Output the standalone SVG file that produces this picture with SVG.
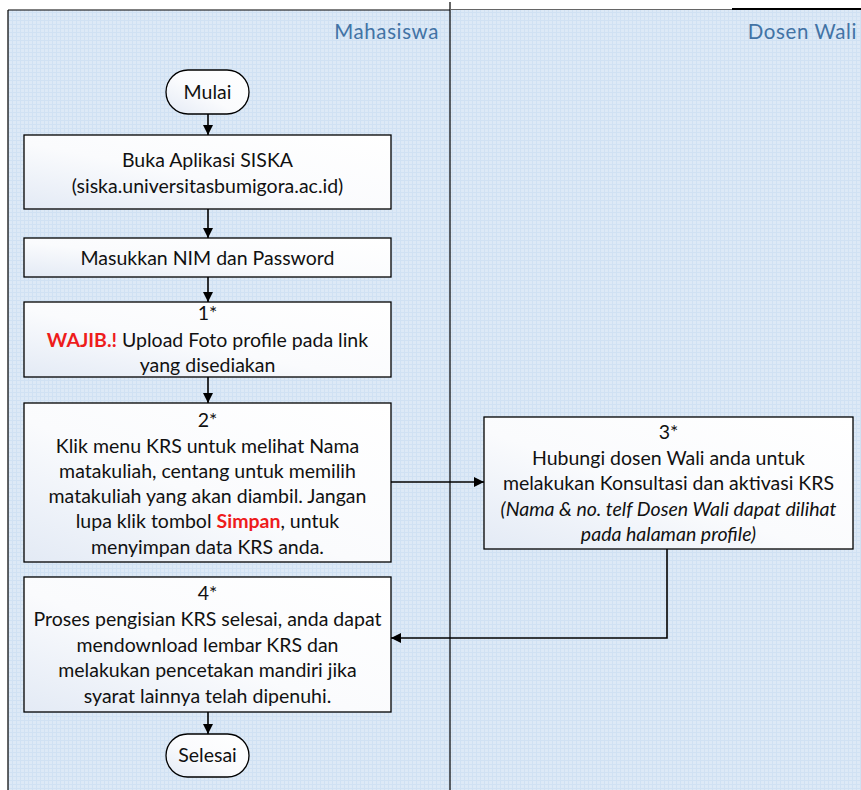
<svg xmlns="http://www.w3.org/2000/svg" width="861" height="790" viewBox="0 0 861 790">
<style>
.box{stroke:#000;stroke-width:1.3;fill:url(#bg)}
.t{font-family:Lato,"Open Sans","Liberation Sans",sans-serif;font-size:19.5px;fill:#111;text-anchor:middle}
.lane{font-family:Lato,"Open Sans","Liberation Sans",sans-serif;font-size:20.5px;letter-spacing:0.6px;fill:#4273a5;text-anchor:end}
.red{fill:#ee1c1c;font-weight:bold}
.it{font-style:italic}
.c{stroke:#000;stroke-width:1.6;fill:none}
.pool{stroke:#000;stroke-width:1.2;fill:none}
</style>
<defs>
<linearGradient id="bg" x1="1" y1="0" x2="0" y2="1">
<stop offset="0" stop-color="#ffffff"/>
<stop offset="0.55" stop-color="#fafbfd"/>
<stop offset="1" stop-color="#e3eaf5"/>
</linearGradient>
<pattern id="grid" width="4" height="4" patternUnits="userSpaceOnUse">
<rect width="4" height="4" fill="#dde9f6"/>
<path d="M0 0.5H4M0.5 0V4" stroke="#d0e1f3" stroke-width="1"/>
</pattern>
<marker id="ah" viewBox="0 0 10 10" refX="10" refY="5" markerWidth="10" markerHeight="10" markerUnits="userSpaceOnUse" orient="auto">
<path d="M0 0L10 5L0 10z" fill="#000"/>
</marker>
</defs>
<rect width="861" height="790" fill="#fff"/>
<g id="pool">
<rect x="8" y="10" width="853" height="780" fill="url(#grid)"/>
<path class="pool" d="M8 10H450M8 10V790M450 2V790"/>
<path d="M450 9.5H732" stroke="#666" stroke-width="1.2"/>
<path d="M732 9H861" stroke="#000" stroke-width="1.8"/>
<text class="lane" x="439" y="39">Mahasiswa</text>
<text class="lane" x="857" y="39">Dosen Wali</text>
</g>
<g id="connectors">
<path class="c" d="M208 114V135" marker-end="url(#ah)"/>
<path class="c" d="M208 209V238" marker-end="url(#ah)"/>
<path class="c" d="M208 277V302" marker-end="url(#ah)"/>
<path class="c" d="M208 377V403" marker-end="url(#ah)"/>
<path class="c" d="M391 482H484" marker-end="url(#ah)"/>
<path class="c" d="M667 549V638H391" marker-end="url(#ah)"/>
<path class="c" d="M208 712V734" marker-end="url(#ah)"/>
</g>
<g id="mulai">
<rect class="box" x="166" y="70" width="83" height="44" rx="22"/>
<text class="t" x="207.5" y="99">Mulai</text>
</g>
<g id="buka">
<rect class="box" x="24" y="135" width="367" height="74"/>
<text class="t" x="207.5" y="167">Buka Aplikasi SISKA</text>
<text class="t" x="207.5" y="193">(siska.universitasbumigora.ac.id)</text>
</g>
<g id="masukkan">
<rect class="box" x="24" y="238" width="367" height="39"/>
<text class="t" x="207.5" y="265">Masukkan NIM dan Password</text>
</g>
<g id="step1">
<rect class="box" x="24" y="302" width="367" height="75"/>
<text class="t" x="207.5" y="320">1*</text>
<text class="t" x="207.5" y="347"><tspan class="red">WAJIB.!</tspan> Upload Foto profile pada link</text>
<text class="t" x="207.5" y="372">yang disediakan</text>
</g>
<g id="step2">
<rect class="box" x="24" y="403" width="367" height="159"/>
<text class="t" x="207.5" y="427">2*</text>
<text class="t" x="207.5" y="453">Klik menu KRS untuk melihat Nama</text>
<text class="t" x="207.5" y="478">matakuliah, centang untuk memilih</text>
<text class="t" x="207.5" y="503">matakuliah yang akan diambil. Jangan</text>
<text class="t" x="207.5" y="528">lupa klik tombol <tspan class="red">Simpan</tspan>, untuk</text>
<text class="t" x="207.5" y="554">menyimpan data KRS anda.</text>
</g>
<g id="step3">
<rect class="box" x="484" y="417" width="369" height="132"/>
<text class="t" x="668.5" y="439">3*</text>
<text class="t" x="668.5" y="465">Hubungi dosen Wali anda untuk</text>
<text class="t" x="668.5" y="490">melakukan Konsultasi dan aktivasi KRS</text>
<text class="t it" x="668.5" y="516">(Nama &amp; no. telf Dosen Wali dapat dilihat</text>
<text class="t it" x="668.5" y="541">pada halaman profile)</text>
</g>
<g id="step4">
<rect class="box" x="24" y="577" width="367" height="135"/>
<text class="t" x="207.5" y="600">4*</text>
<text class="t" x="207.5" y="626">Proses pengisian KRS selesai, anda dapat</text>
<text class="t" x="207.5" y="652">mendownload lembar KRS dan</text>
<text class="t" x="207.5" y="677">melakukan pencetakan mandiri jika</text>
<text class="t" x="207.5" y="703">syarat lainnya telah dipenuhi.</text>
</g>
<g id="selesai">
<rect class="box" x="166" y="734" width="83" height="43" rx="21.5"/>
<text class="t" x="207.5" y="762">Selesai</text>
</g>
</svg>
